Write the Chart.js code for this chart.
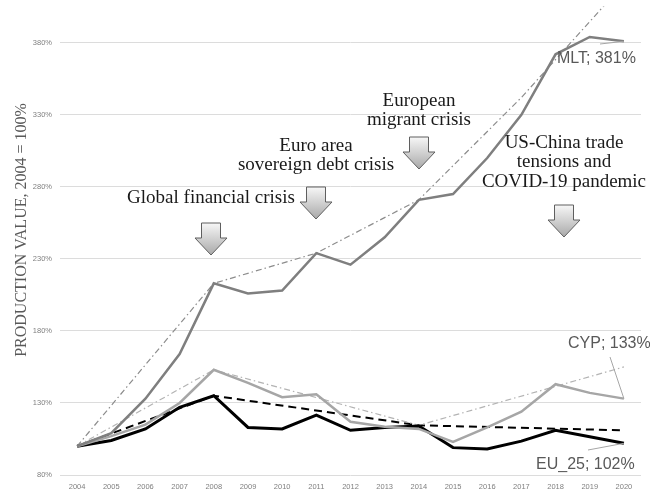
<!DOCTYPE html>
<html>
<head>
<meta charset="utf-8">
<script src="https://cdn.jsdelivr.net/npm/chart.js@4"></script>
<style>
  body { margin: 0; background: #fff; }
  #wrap { width: 650px; height: 493px; }
</style>
</head>
<body>
<div id="wrap"><canvas id="myChart" width="650" height="493"></canvas></div>
<script>
// data (production value, 2004 = 100%)
var years = ['2004','2005','2006','2007','2008','2009','2010','2011','2012','2013','2014','2015','2016','2017','2018','2019','2020'];
var mlt  = [100, 109, 133, 164, 213, 206, 208, 234, 226, 245, 271, 275, 300, 330, 372, 384, 381];
var cyp  = [100, 107, 115, 130, 153, 144, 134, 136, 117, 113.5, 112, 103, 113, 124, 143, 137, 133];
var eu25 = [100, 104, 112, 127, 135, 113, 112, 121.5, 111, 113, 114, 99, 98, 103.5, 111, 106.5, 102];
// trend lines (only the break points)
var mltTrend = [100, null, null, null, 213, null, null, 234, null, null, 271, null, null, 342, null, null, 421];
var cypTrend = [100, null, null, null, 153, null, null, null, null, null, 114.5, null, null, null, null, null, 155];
var euTrend  = [100, null, null, null, 135, null, null, null, null, null, 114.5, null, null, null, null, null, 111];
var yTicks = [80, 130, 180, 230, 280, 330, 380];

var seriesLabels = ['MLT; 381%', 'CYP; 133%', 'EU_25; 102%'];

var events = [
    { x: 211, arrowTop: 223, lines: ['Global financial crisis'], base: [202.7] },
    { x: 316, arrowTop: 187, lines: ['Euro area', 'sovereign debt crisis'], base: [150.7, 170] },
    { x: 419, arrowTop: 137, lines: ['European', 'migrant crisis'], base: [106, 125] },
    { x: 564, arrowTop: 205, lines: ['US-China trade', 'tensions and', 'COVID-19 pandemic'], base: [148.3, 167.3, 186.7] }
];

function drawArrow(ctx, cx, top) {
    var hw = 16, sw = 9.5, sh = 15, hh = 17;
    var g = ctx.createLinearGradient(0, top, 0, top + sh + hh);
    g.addColorStop(0, '#f7f7f7');
    g.addColorStop(1, '#a9a9a9');
    ctx.beginPath();
    ctx.moveTo(cx - sw, top);
    ctx.lineTo(cx + sw, top);
    ctx.lineTo(cx + sw, top + sh);
    ctx.lineTo(cx + hw, top + sh);
    ctx.lineTo(cx, top + sh + hh);
    ctx.lineTo(cx - hw, top + sh);
    ctx.lineTo(cx - sw, top + sh);
    ctx.closePath();
    ctx.fillStyle = g;
    ctx.fill();
    ctx.strokeStyle = '#5f5f5f';
    ctx.lineWidth = 1;
    ctx.stroke();
}

var extras = {
    id: 'extras',
    afterDraw: function(chart) {
        var ctx = chart.ctx;
        ctx.save();

        // y axis title
        ctx.save();
        ctx.translate(22, 230);
        ctx.rotate(-Math.PI / 2);
        ctx.font = '16px "Liberation Serif", serif';
        ctx.fillStyle = '#595959';
        ctx.textAlign = 'center';
        ctx.textBaseline = 'middle';
        ctx.fillText('PRODUCTION VALUE, 2004 = 100%', 0, 0);
        ctx.restore();

        // event annotations
        events.forEach(function(ev) {
            ctx.font = '19px "Liberation Serif", serif';
            ctx.fillStyle = '#1a1a1a';
            ctx.textAlign = 'center';
            ctx.textBaseline = 'alphabetic';
            ev.lines.forEach(function(t, i) {
                ctx.fillText(t, ev.x, ev.base[i]);
            });
            drawArrow(ctx, ev.x, ev.arrowTop);
        });

        // series labels with leader lines
        var last = years.length - 1;
        var pts = [0, 1, 2].map(function(i) {
            return chart.getDatasetMeta(i).data[last];
        });
        var lab = [
            { text: seriesLabels[0], x: 557, y: 58.5, lx: 600, ly: 44 },
            { text: seriesLabels[1], x: 568, y: 344, lx: 610, ly: 357 },
            { text: seriesLabels[2], x: 536, y: 465, lx: 588, ly: 450 }
        ];
        ctx.strokeStyle = '#a6a6a6';
        ctx.lineWidth = 1;
        lab.forEach(function(l, i) {
            ctx.beginPath();
            ctx.moveTo(pts[i].x, pts[i].y);
            ctx.lineTo(l.lx, l.ly);
            ctx.stroke();
        });
        ctx.font = '16px "Liberation Sans", Arial, sans-serif';
        ctx.fillStyle = '#595959';
        ctx.textAlign = 'left';
        ctx.textBaseline = 'middle';
        lab.forEach(function(l) {
            ctx.fillText(l.text, l.x, l.y);
        });
        ctx.restore();
    }
};

var ctx = document.getElementById('myChart').getContext('2d');
window.myChart = new Chart(ctx, {
    type: 'line',
    data: {
        labels: years,
        datasets: [{
            label: 'MLT',
            data: mlt,
            borderColor: '#7f7f7f',
            borderWidth: 2.5,
            pointRadius: 0
        }, {
            label: 'CYP',
            data: cyp,
            borderColor: '#a6a6a6',
            borderWidth: 2.5,
            pointRadius: 0
        }, {
            label: 'EU_25',
            data: eu25,
            borderColor: '#000000',
            borderWidth: 3,
            pointRadius: 0
        }, {
            label: 'MLT trend',
            data: mltTrend,
            borderColor: '#8c8c8c',
            borderWidth: 1.2,
            borderDash: [6, 3, 1.5, 3],
            pointRadius: 0,
            spanGaps: true,
            clip: { left: 0, top: 6, right: 0, bottom: 0 }
        }, {
            label: 'CYP trend',
            data: cypTrend,
            borderColor: '#b3b3b3',
            borderWidth: 1.2,
            borderDash: [6, 3, 1.5, 3],
            pointRadius: 0,
            spanGaps: true
        }, {
            label: 'EU_25 trend',
            data: euTrend,
            borderColor: '#000000',
            borderWidth: 2,
            borderDash: [8, 5],
            pointRadius: 0,
            spanGaps: true
        }]
    },
    options: {
        responsive: false,
        animation: false,
        layout: { padding: { top: 0, right: 9, left: 0, bottom: 0 } },
        plugins: {
            legend: { display: false },
            tooltip: { enabled: false }
        },
        scales: {
            x: {
                offset: true,
                grid: { display: false, drawTicks: false },
                border: { display: false },
                ticks: {
                    color: '#7f7f7f',
                    font: { family: '"Liberation Sans", Arial, sans-serif', size: 7.5 },
                    padding: 7,
                    maxRotation: 0,
                    autoSkip: false
                },
                afterFit: function(s) { s.height = 18; }
            },
            y: {
                min: 80,
                max: 401,
                grid: { color: '#dcdcdc', lineWidth: 1, drawTicks: false },
                border: { display: false },
                afterBuildTicks: function(s) {
                    s.ticks = yTicks.map(function(v) { return { value: v }; });
                },
                ticks: {
                    color: '#7f7f7f',
                    font: { family: '"Liberation Sans", Arial, sans-serif', size: 7.5 },
                    padding: 8,
                    callback: function(v) { return v + '%'; }
                },
                afterFit: function(s) { s.width = 60; }
            }
        }
    },
    plugins: [extras]
});
</script>
</body>
</html>
